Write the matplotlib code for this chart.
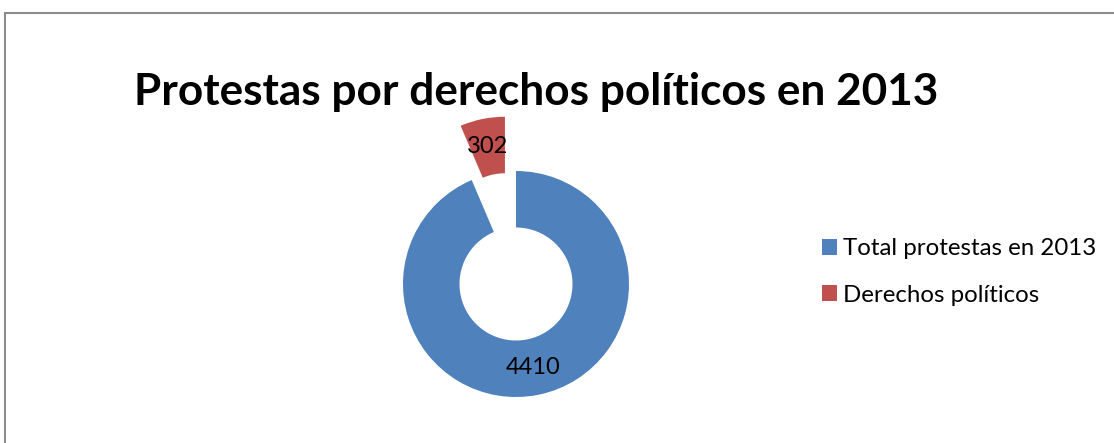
import matplotlib.pyplot as plt
from matplotlib.patches import Rectangle

title = 'Protestas por derechos políticos en 2013'
categories = ['Total protestas en 2013', 'Derechos políticos']
values = [4410, 302]
colors = ['#4F81BD', '#C0504D']
explode = [0, 0.49]

plt.rcParams['font.family'] = ['Lato', 'DejaVu Sans']

W, H = 1114, 443
fig = plt.figure(figsize=(W / 100, H / 100), dpi=100)

# frame around the chart area (open on right/bottom like the crop)
fig.patches.append(Rectangle((5 / W, -0.2), 1.2, 1.2 - 13 / H, transform=fig.transFigure,
                             fill=False, edgecolor='#8c8c8c', linewidth=1.5))

# donut centred at pixel (516, 284), radius 113 px
cx, cy, r = 516, 284, 113
ax = fig.add_axes([0, 0, 1, 1])
ax.axis('off')

total = sum(values)
wedges, texts, autotexts = ax.pie(
    values, colors=colors, explode=explode, startangle=90, counterclock=False,
    radius=1, wedgeprops=dict(width=0.5, linewidth=0),
    autopct=lambda p: '%d' % round(p * total / 100), pctdistance=0.75,
    textprops=dict(fontsize=17, color='black'))
ax.set_xlim(-cx / r, (W - cx) / r)
ax.set_ylim((cy - H) / r, cy / r)
ax.set_aspect('auto')

fig.text(536 / W, 1 - 105 / H, title, ha='center', va='baseline',
         fontsize=31.8, fontweight='bold')

leg = fig.legend(wedges, categories, loc='center left',
                 bbox_to_anchor=(822 / W, 1 - 272 / H), frameon=False,
                 borderpad=0, borderaxespad=0,
                 fontsize=17.3, handlelength=0.62, handleheight=0.62,
                 handletextpad=0.25, labelspacing=1.05)

fig.savefig('out.png', dpi=100)
plt.close(fig)
